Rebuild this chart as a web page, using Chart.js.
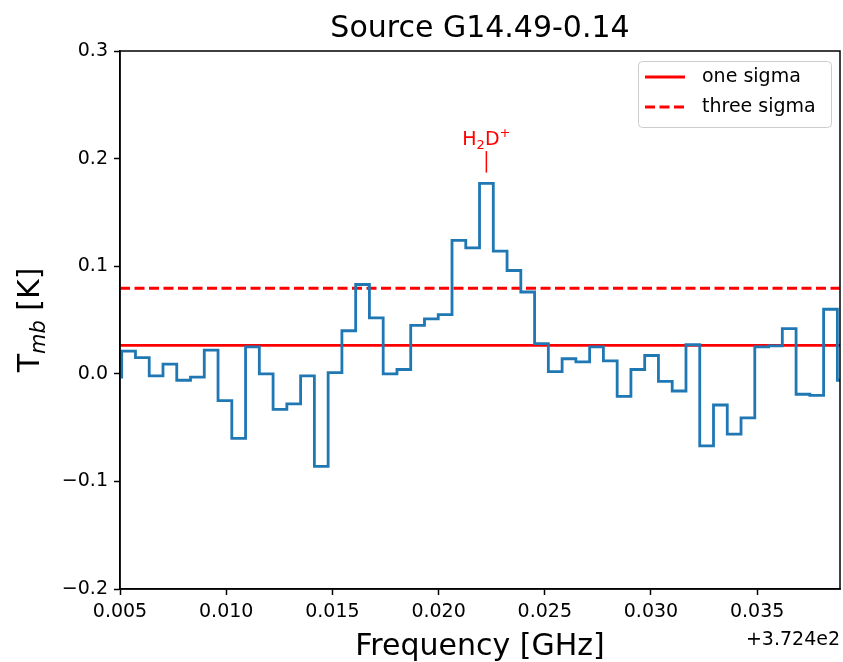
<!DOCTYPE html>
<html>
<head>
<meta charset="utf-8">
<script src="https://cdn.jsdelivr.net/npm/chart.js@4.4.0/dist/chart.umd.min.js"></script>
<style>
    body { margin: 0; background: #fff; }
    #wrap { width: 843px; height: 662px; }
</style>
</head>
<body>
<div id="wrap"><canvas id="spectrumChart" width="843" height="662"></canvas></div>
<script>
// frequency offsets (GHz, +372.4) at channel centres
const freqs = [
    0.004756, 0.005404, 0.006052, 0.006700, 0.007348, 0.007996, 0.008644, 0.009292,
    0.009940, 0.010588, 0.011236, 0.011884, 0.012532, 0.013180, 0.013828, 0.014476,
    0.015124, 0.015772, 0.016420, 0.017068, 0.017716, 0.018364, 0.019012, 0.019660,
    0.020308, 0.020956, 0.021604, 0.022252, 0.022900, 0.023548, 0.024196, 0.024844,
    0.025492, 0.026140, 0.026788, 0.027436, 0.028084, 0.028732, 0.029380, 0.030028,
    0.030676, 0.031324, 0.031972, 0.032620, 0.033268, 0.033916, 0.034564, 0.035212,
    0.035860, 0.036508, 0.037156, 0.037804, 0.038452, 0.039100
];
// T_mb (K)
const tmb = [
    -0.003, 0.021, 0.015, -0.002, 0.009, -0.006, -0.003, 0.022,
    -0.025, -0.060, 0.025, 0.000, -0.033, -0.028, -0.002, -0.086,
    0.001, 0.040, 0.083, 0.052, 0.000, 0.004, 0.045, 0.051,
    0.055, 0.124, 0.117, 0.177, 0.114, 0.096, 0.076, 0.028,
    0.002, 0.014, 0.011, 0.025, 0.012, -0.021, 0.004, 0.017,
    -0.007, -0.016, 0.027, -0.067, -0.029, -0.056, -0.041, 0.025,
    0.026, 0.042, -0.019, -0.020, 0.060, -0.006
];
const oneSigma = 0.0265;
const threeSigma = 0.0795;

const xRange = [0.005, 0.0389];
const yRange = [-0.2, 0.3];
const xTickValues = [0.005, 0.010, 0.015, 0.020, 0.025, 0.030, 0.035];
const yTickValues = [-0.2, -0.1, 0.0, 0.1, 0.2, 0.3];

// line marker for H2D+
const lineMarkX = 0.02225;
const lineMarkY = [0.187, 0.207];
const lineLabelY = 0.213;

const FONT = "'DejaVu Sans', 'Liberation Sans', sans-serif";

// frame, titles, legend and the line label drawn on top of the chart
const decorations = {
    id: 'decorations',
    afterDraw(chart) {
        const ctx = chart.ctx;
        const area = chart.chartArea;
        const xs = chart.scales.x;
        const ys = chart.scales.y;
        const midX = (area.left + area.right) / 2;
        const midY = (area.top + area.bottom) / 2;

        ctx.save();
        ctx.strokeStyle = '#000';
        ctx.lineWidth = 1.5;
        ctx.strokeRect(area.left, area.top, area.right - area.left, area.bottom - area.top);

        ctx.fillStyle = '#000';
        ctx.textAlign = 'center';
        ctx.textBaseline = 'alphabetic';
        ctx.font = '30px ' + FONT;
        ctx.fillText('Source G14.49-0.14', midX, 37);
        ctx.fillText('Frequency [GHz]', midX, 655);

        ctx.font = '19px ' + FONT;
        ctx.textAlign = 'right';
        ctx.fillText('+3.724e2', area.right, 645);

        // y axis title T_mb [K]
        ctx.save();
        ctx.translate(39, midY);
        ctx.rotate(-Math.PI / 2);
        ctx.textAlign = 'left';
        ctx.font = '30px ' + FONT;
        const wT = ctx.measureText('T').width;
        ctx.font = 'italic 21px ' + FONT;
        const wSub = ctx.measureText('mb').width;
        ctx.font = '30px ' + FONT;
        const wRest = ctx.measureText(' [K]').width;
        let x0 = -(wT + wSub + wRest) / 2;
        ctx.fillText('T', x0, 0);
        ctx.font = 'italic 21px ' + FONT;
        ctx.fillText('mb', x0 + wT, 6);
        ctx.font = '30px ' + FONT;
        ctx.fillText(' [K]', x0 + wT + wSub, 0);
        ctx.restore();

        // H2D+ label
        const px = xs.getPixelForValue(lineMarkX);
        ctx.strokeStyle = '#ff0000';
        ctx.lineWidth = 1.5;
        ctx.beginPath();
        ctx.moveTo(px, ys.getPixelForValue(lineMarkY[0]));
        ctx.lineTo(px, ys.getPixelForValue(lineMarkY[1]));
        ctx.stroke();
        ctx.fillStyle = '#ff0000';
        ctx.textAlign = 'left';
        const by = ys.getPixelForValue(lineLabelY);
        ctx.font = '19px ' + FONT;
        const wH = ctx.measureText('H').width;
        const wD = ctx.measureText('D').width;
        ctx.font = '13px ' + FONT;
        const w2 = ctx.measureText('2').width;
        const wPlus = ctx.measureText('+').width;
        let lx = px - (wH + w2 + wD + wPlus) / 2;
        ctx.font = '19px ' + FONT;
        ctx.fillText('H', lx, by);
        ctx.font = '13px ' + FONT;
        ctx.fillText('2', lx + wH, by + 4);
        ctx.font = '19px ' + FONT;
        ctx.fillText('D', lx + wH + w2, by);
        ctx.font = '13px ' + FONT;
        ctx.fillText('+', lx + wH + w2 + wD, by - 8);

        // legend box
        ctx.beginPath();
        ctx.roundRect(638.5, 61.5, 193, 66, 4);
        ctx.fillStyle = 'rgba(255,255,255,0.8)';
        ctx.fill();
        ctx.strokeStyle = '#cccccc';
        ctx.lineWidth = 1;
        ctx.stroke();

        const entries = [
            { label: 'one sigma', dash: [], y: 77 },
            { label: 'three sigma', dash: [10, 4.5], y: 107 }
        ];
        entries.forEach(e => {
            ctx.strokeStyle = '#ff0000';
            ctx.lineWidth = 2.8;
            ctx.setLineDash(e.dash);
            ctx.beginPath();
            ctx.moveTo(645, e.y);
            ctx.lineTo(685, e.y);
            ctx.stroke();
            ctx.setLineDash([]);
            ctx.fillStyle = '#000';
            ctx.font = '19px ' + FONT;
            ctx.textBaseline = 'middle';
            ctx.fillText(e.label, 702, e.y);
        });
        ctx.restore();
    }
};

function hLine(value) {
    return [{ x: xRange[0], y: value }, { x: xRange[1], y: value }];
}

function axisOptions(range, tickValues, fmt, fitFn) {
    return {
        type: 'linear',
        min: range[0],
        max: range[1],
        afterBuildTicks: scale => {
            scale.ticks = tickValues.map(v => ({ value: v }));
        },
        afterFit: fitFn,
        grid: {
            drawOnChartArea: false,
            drawTicks: true,
            tickLength: 6,
            tickColor: '#000',
            tickWidth: 1.5
        },
        border: { display: true, color: '#000', width: 1.5 },
        ticks: {
            font: { family: FONT, size: 19 },
            color: '#000',
            padding: 6,
            maxRotation: 0,
            autoSkip: false,
            callback: fmt
        }
    };
}

const ctx = document.getElementById('spectrumChart').getContext('2d');
new Chart(ctx, {
    type: 'line',
    data: {
        datasets: [
            {
                label: 'spectrum',
                data: freqs.map((f, i) => ({ x: f, y: tmb[i] })),
                borderColor: '#1f77b4',
                borderWidth: 2.8,
                stepped: 'middle',
                pointRadius: 0,
                fill: false
            },
            {
                label: 'one sigma',
                data: hLine(oneSigma),
                borderColor: '#ff0000',
                borderWidth: 2.8,
                pointRadius: 0,
                fill: false
            },
            {
                label: 'three sigma',
                data: hLine(threeSigma),
                borderColor: '#ff0000',
                borderWidth: 2.8,
                borderDash: [10, 4.5],
                pointRadius: 0,
                fill: false
            }
        ]
    },
    options: {
        responsive: false,
        animation: false,
        devicePixelRatio: 1,
        layout: { padding: { top: 51, right: 3, left: 0, bottom: 0 } },
        plugins: {
            legend: { display: false },
            title: { display: false },
            tooltip: { enabled: false }
        },
        scales: {
            x: axisOptions(xRange, xTickValues, v => v.toFixed(3), s => { s.height = 73; }),
            y: axisOptions(yRange, yTickValues,
                v => (v < -1e-9 ? '\u2212' : '') + Math.abs(v).toFixed(1),
                s => { s.width = 120; })
        }
    },
    plugins: [decorations]
});
</script>
</body>
</html>
